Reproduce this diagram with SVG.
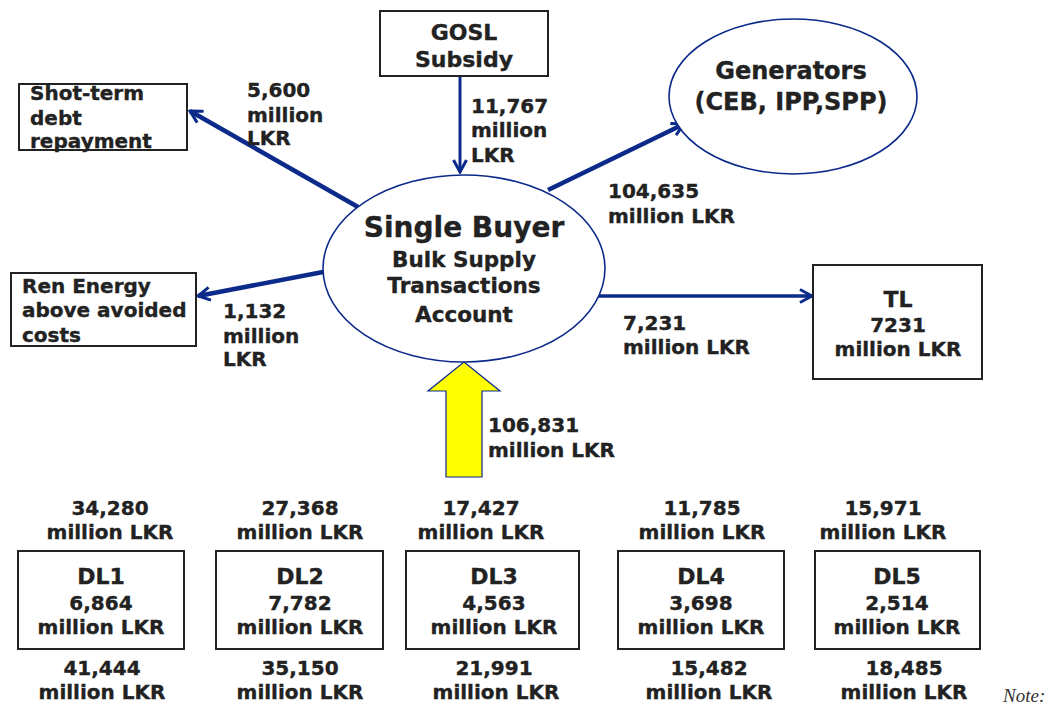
<svg xmlns="http://www.w3.org/2000/svg" width="1053" height="704" viewBox="0 0 1053 704">
<defs>
<style>
.t{font-family:"DejaVu Sans","Verdana",sans-serif;font-weight:bold;fill:#222;stroke:#222;stroke-width:0.35;font-size:20px}
.c{text-anchor:middle}
.h{font-size:22px}
.box{fill:#fff;stroke:#222;stroke-width:2}
.ell{fill:#fff;stroke:#0b2a8a;stroke-width:1.6}
.ln{stroke:#0b2a8a;fill:none}
</style>
<marker id="arr" viewBox="0 0 16 16" refX="14" refY="8" markerWidth="16" markerHeight="16" markerUnits="userSpaceOnUse" orient="auto">
<path d="M2,1.5 L14,8 L2,14.5" fill="none" stroke="#0b2a8a" stroke-width="3"/>
</marker>
</defs>
<rect width="1053" height="704" fill="#fff"/>

<g id="connectors">
<line class="ln" x1="460" y1="76" x2="460" y2="172" stroke-width="3" marker-end="url(#arr)"/>
<line class="ln" x1="358" y1="207" x2="190" y2="111" stroke-width="4.5" marker-end="url(#arr)"/>
<line class="ln" x1="323" y1="272" x2="198" y2="296" stroke-width="4.5" marker-end="url(#arr)"/>
<line class="ln" x1="548" y1="190" x2="684" y2="124" stroke-width="4.5" marker-end="url(#arr)"/>
<line class="ln" x1="597" y1="296" x2="812" y2="296" stroke-width="3.5" marker-end="url(#arr)"/>
<path d="M464,362 L500,391 L482,391 L482,477 L446,477 L446,391 L428,391 Z" fill="#ffff00" stroke="#0b2a8a" stroke-width="1.2"/>
<text class="t"><tspan x="471" y="113">11,767</tspan><tspan x="471" y="137">million</tspan><tspan x="471" y="162">LKR</tspan></text>
<text class="t"><tspan x="247" y="97">5,600</tspan><tspan x="247" y="122">million</tspan><tspan x="247" y="145">LKR</tspan></text>
<text class="t"><tspan x="223" y="318">1,132</tspan><tspan x="223" y="343">million</tspan><tspan x="223" y="366">LKR</tspan></text>
<text class="t"><tspan x="608" y="198">104,635</tspan><tspan x="608" y="223">million LKR</tspan></text>
<text class="t"><tspan x="623" y="330">7,231</tspan><tspan x="623" y="354">million LKR</tspan></text>
<text class="t"><tspan x="488" y="432">106,831</tspan><tspan x="488" y="457">million LKR</tspan></text>
</g>

<g id="gosl">
<rect class="box" x="380" y="11" width="168" height="65"/>
<text class="t c h"><tspan x="464" y="40">GOSL</tspan><tspan x="464" y="67">Subsidy</tspan></text>
</g>

<g id="shortterm">
<rect class="box" x="19" y="84" width="168" height="66"/>
<text class="t"><tspan x="30" y="100">Shot-term</tspan><tspan x="30" y="125">debt</tspan><tspan x="30" y="148">repayment</tspan></text>
</g>

<g id="renenergy">
<rect class="box" x="11" y="273" width="185" height="73"/>
<text class="t"><tspan x="22" y="293">Ren Energy</tspan><tspan x="22" y="317">above avoided</tspan><tspan x="22" y="342">costs</tspan></text>
</g>

<g id="generators">
<ellipse class="ell" cx="793" cy="96.5" rx="124" ry="77.5"/>
<text class="t c" style="font-size:24px"><tspan x="791" y="79">Generators</tspan><tspan x="791" y="110">(CEB, IPP,SPP)</tspan></text>
</g>

<g id="singlebuyer">
<ellipse class="ell" cx="464" cy="268.5" rx="141" ry="93.5"/>
<text class="t c" style="font-size:28px" x="464" y="237">Single Buyer</text>
<text class="t c" style="font-size:21.5px"><tspan x="464" y="267">Bulk Supply</tspan><tspan x="464" y="293">Transactions</tspan><tspan x="464" y="322">Account</tspan></text>
</g>

<g id="tl">
<rect class="box" x="813" y="265" width="169" height="114"/>
<text class="t c"><tspan class="h" x="898" y="307">TL</tspan><tspan x="898" y="332">7231</tspan><tspan x="898" y="356">million LKR</tspan></text>
</g>

<g id="dl1">
<text class="t c"><tspan x="110" y="515">34,280</tspan><tspan x="110" y="539">million LKR</tspan></text>
<rect class="box" x="18" y="551" width="166" height="98"/>
<text class="t c"><tspan class="h" x="101" y="584">DL1</tspan><tspan x="101" y="610">6,864</tspan><tspan x="101" y="634">million LKR</tspan></text>
<text class="t c"><tspan x="102" y="675">41,444</tspan><tspan x="102" y="699">million LKR</tspan></text>
</g>

<g id="dl2">
<text class="t c"><tspan x="300" y="515">27,368</tspan><tspan x="300" y="539">million LKR</tspan></text>
<rect class="box" x="216" y="551" width="167" height="98"/>
<text class="t c"><tspan class="h" x="300" y="584">DL2</tspan><tspan x="300" y="610">7,782</tspan><tspan x="300" y="634">million LKR</tspan></text>
<text class="t c"><tspan x="300" y="675">35,150</tspan><tspan x="300" y="699">million LKR</tspan></text>
</g>

<g id="dl3">
<text class="t c"><tspan x="481" y="515">17,427</tspan><tspan x="481" y="539">million LKR</tspan></text>
<rect class="box" x="406" y="551" width="173" height="98"/>
<text class="t c"><tspan class="h" x="494" y="584">DL3</tspan><tspan x="494" y="610">4,563</tspan><tspan x="494" y="634">million LKR</tspan></text>
<text class="t c"><tspan x="494" y="675">21,991</tspan><tspan x="496" y="699">million LKR</tspan></text>
</g>

<g id="dl4">
<text class="t c"><tspan x="702" y="515">11,785</tspan><tspan x="702" y="539">million LKR</tspan></text>
<rect class="box" x="618" y="551" width="166" height="98"/>
<text class="t c"><tspan class="h" x="701" y="584">DL4</tspan><tspan x="701" y="610">3,698</tspan><tspan x="701" y="634">million LKR</tspan></text>
<text class="t c"><tspan x="709" y="675">15,482</tspan><tspan x="709" y="699">million LKR</tspan></text>
</g>

<g id="dl5">
<text class="t c"><tspan x="883" y="515">15,971</tspan><tspan x="883" y="539">million LKR</tspan></text>
<rect class="box" x="815" y="551" width="165" height="98"/>
<text class="t c"><tspan class="h" x="897" y="584">DL5</tspan><tspan x="897" y="610">2,514</tspan><tspan x="897" y="634">million LKR</tspan></text>
<text class="t c"><tspan x="904" y="675">18,485</tspan><tspan x="904" y="699">million LKR</tspan></text>
</g>

<text x="1003" y="702" style="font-family:'Liberation Serif',serif;font-style:italic;font-size:19px;fill:#333">Note:</text>
</svg>
